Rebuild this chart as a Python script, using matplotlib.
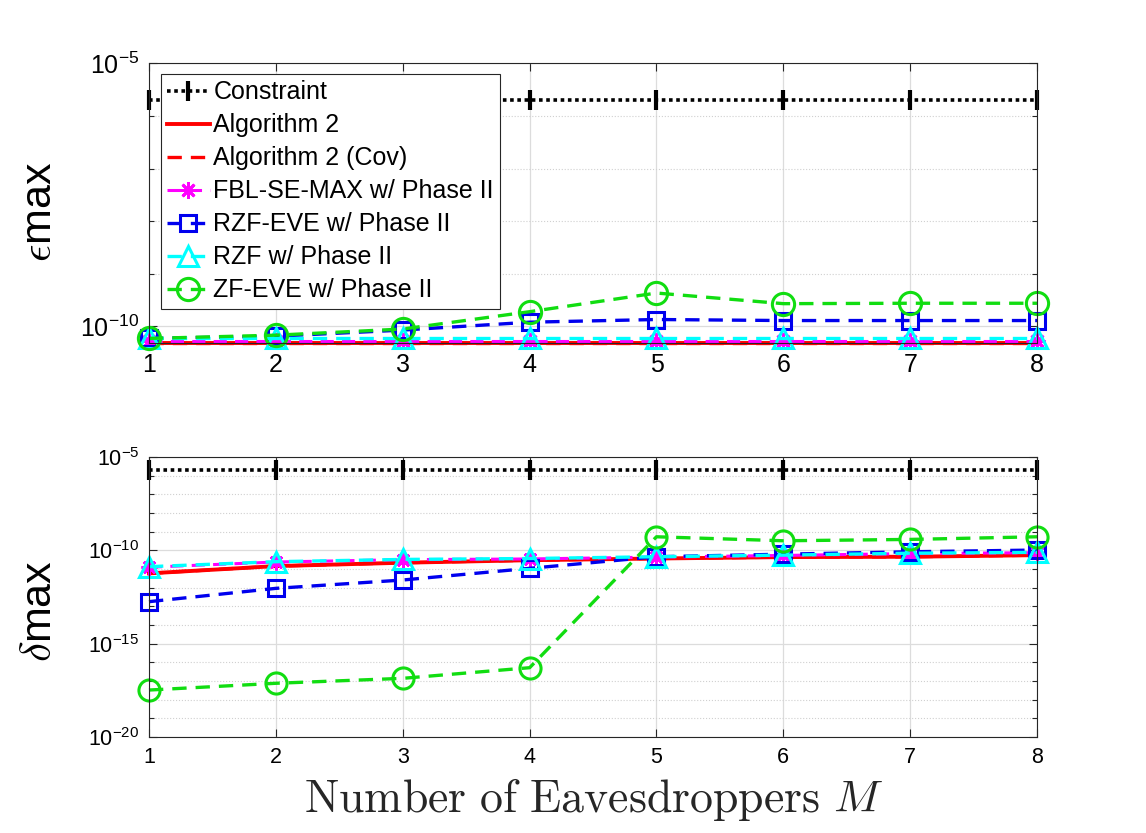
import matplotlib
matplotlib.use("Agg")
import math
import matplotlib.pyplot as plt
from matplotlib.ticker import LogLocator, FixedLocator, FuncFormatter, NullFormatter

plt.rcParams['font.family'] = ['Liberation Sans', 'DejaVu Sans']

# number of eavesdroppers
M = [1, 2, 3, 4, 5, 6, 7, 8]

# constraint level (same on both panels)
constraint = [2e-6] * 8

# epsilon_max (top panel)
eps_alg2 = [4.9e-11] * 8
eps_alg2_cov = [4.9e-11] * 8
eps_fbl = [5.3e-11] * 8
eps_rzf_eve = [5.9e-11, 6.5e-11, 8.5e-11, 1.2e-10, 1.35e-10, 1.29e-10, 1.29e-10, 1.29e-10]
eps_rzf = [5.9e-11] * 8
eps_zf_eve = [5.9e-11, 6.8e-11, 8.9e-11, 1.9e-10, 4.3e-10, 2.7e-10, 2.75e-10, 2.75e-10]

# delta_max (bottom panel)
delta_alg2 = [5.9e-12, 1.45e-11, 2.2e-11, 3.0e-11, 3.7e-11, 4.4e-11, 4.6e-11, 5.6e-11]
delta_alg2_cov = [5.9e-12, 1.45e-11, 2.2e-11, 3.0e-11, 3.7e-11, 4.4e-11, 4.6e-11, 5.6e-11]
delta_fbl = [1.26e-11, 2.4e-11, 3.2e-11, 3.5e-11, 4.4e-11, 5.4e-11, 6.8e-11, 7.6e-11]
delta_rzf_eve = [1.8e-13, 9.3e-13, 2.6e-12, 1.1e-11, 4.6e-11, 6.3e-11, 8.5e-11, 1.05e-10]
delta_rzf = [1.35e-11, 2.5e-11, 3.3e-11, 3.7e-11, 4.6e-11, 5.6e-11, 7.1e-11, 7.9e-11]
delta_zf_eve = [3.3e-18, 7.6e-18, 1.4e-17, 5.2e-17, 5.4e-10, 3.3e-10, 3.9e-10, 5.4e-10]

labels = ['Constraint', 'Algorithm 2', 'Algorithm 2 (Cov)', 'FBL-SE-MAX w/ Phase II',
          'RZF-EVE w/ Phase II', 'RZF w/ Phase II', 'ZF-EVE w/ Phase II']

DASH = (4.3, 2.7)


def draw(ax, series, ms_scale=1.0):
    lines = []
    con, alg, cov, fbl, rze, rzf, zfe = series
    l, = ax.plot(M, con, color='k', lw=2.6, dashes=(1, 1), marker='|', ms=15 * ms_scale, mew=3)
    lines.append(l)
    l, = ax.plot(M, alg, color='red', lw=2.8)
    lines.append(l)
    l, = ax.plot(M, cov, color='red', lw=2.4, dashes=DASH)
    lines.append(l)
    l, = ax.plot(M, fbl, color='magenta', lw=2.2, dashes=DASH, marker=(8, 2, 0), ms=12 * ms_scale, mew=2)
    lines.append(l)
    l, = ax.plot(M, rze, color='#0000ee', lw=2.4, dashes=DASH, marker='s', ms=12 * ms_scale,
                 mfc='none', mew=2.2)
    lines.append(l)
    l, = ax.plot(M, rzf, color='cyan', lw=2.4, dashes=DASH, marker='^', ms=15 * ms_scale,
                 mfc='none', mew=2.2)
    lines.append(l)
    l, = ax.plot(M, zfe, color='#11dd11', lw=2.4, dashes=DASH, marker='o', ms=16 * ms_scale,
                 mfc='none', mew=2.2)
    lines.append(l)
    for ln in lines:
        ln.set_clip_on(False)
    return lines


def style(ax, majors, fs):
    ax.set_yscale('log')
    ax.set_xlim(1, 8)
    ax.set_xticks(M)
    ax.yaxis.set_major_locator(FixedLocator(majors))
    ax.yaxis.set_minor_locator(LogLocator(base=10, subs=(1.0,), numticks=40))
    ax.yaxis.set_minor_formatter(NullFormatter())
    ax.yaxis.set_major_formatter(FuncFormatter(
        lambda v, p: r'$\mathregular{10^{%d}}$' % round(math.log10(v))))
    ax.tick_params(which='both', direction='in', top=True, right=True, labelsize=fs,
                   color='#262626', width=0.8)
    ax.tick_params(which='major', length=6, pad=7)
    ax.tick_params(which='minor', length=3.5)
    ax.grid(True, which='major', color='#dcdcdc', lw=0.9, ls='-')
    ax.grid(True, which='minor', axis='y', color='#d0d0d0', lw=0.8, ls=':')
    ax.set_axisbelow(True)
    for s in ax.spines.values():
        s.set_color('#262626')
        s.set_linewidth(0.8)


fig = plt.figure(figsize=(11.46, 8.33), dpi=100)

ax1 = fig.add_axes([0.130, 0.588, 0.775, 0.336])
lines = draw(ax1, [constraint, eps_alg2, eps_alg2_cov, eps_fbl, eps_rzf_eve, eps_rzf, eps_zf_eve])
style(ax1, [1e-10, 1e-5], 18)
ax1.set_ylim(10 ** -10.32, 1e-5)
ax1.set_ylabel(r'$\epsilon$max', fontsize=31, math_fontfamily='cm')
ax1.yaxis.set_label_coords(-0.10, 0.47)
leg = ax1.legend(lines, labels, loc='upper left', bbox_to_anchor=(0.0135, 0.961),
                 borderaxespad=0, fontsize=18, handlelength=1.7, handletextpad=0.15,
                 labelspacing=0.36, borderpad=0.25, fancybox=False, framealpha=1,
                 edgecolor='#262626', numpoints=1)
leg.get_frame().set_linewidth(0.8)

ax2 = fig.add_axes([0.130, 0.1152, 0.775, 0.336])
draw(ax2, [constraint, delta_alg2, delta_alg2_cov, delta_fbl, delta_rzf_eve, delta_rzf, delta_zf_eve],
     ms_scale=0.95)
style(ax2, [1e-20, 1e-15, 1e-10, 1e-5], 15.5)
ax2.set_ylim(1e-20, 1e-5)
ax2.set_ylabel(r'$\delta$max', fontsize=31, math_fontfamily='cm')
ax2.yaxis.set_label_coords(-0.10, 0.45)
ax2.set_xlabel(r'$\mathrm{Number\ of\ Eavesdroppers}\ M$', fontsize=33,
               math_fontfamily='cm', labelpad=6, color='#262626')

fig.savefig('out.png', dpi=100)
